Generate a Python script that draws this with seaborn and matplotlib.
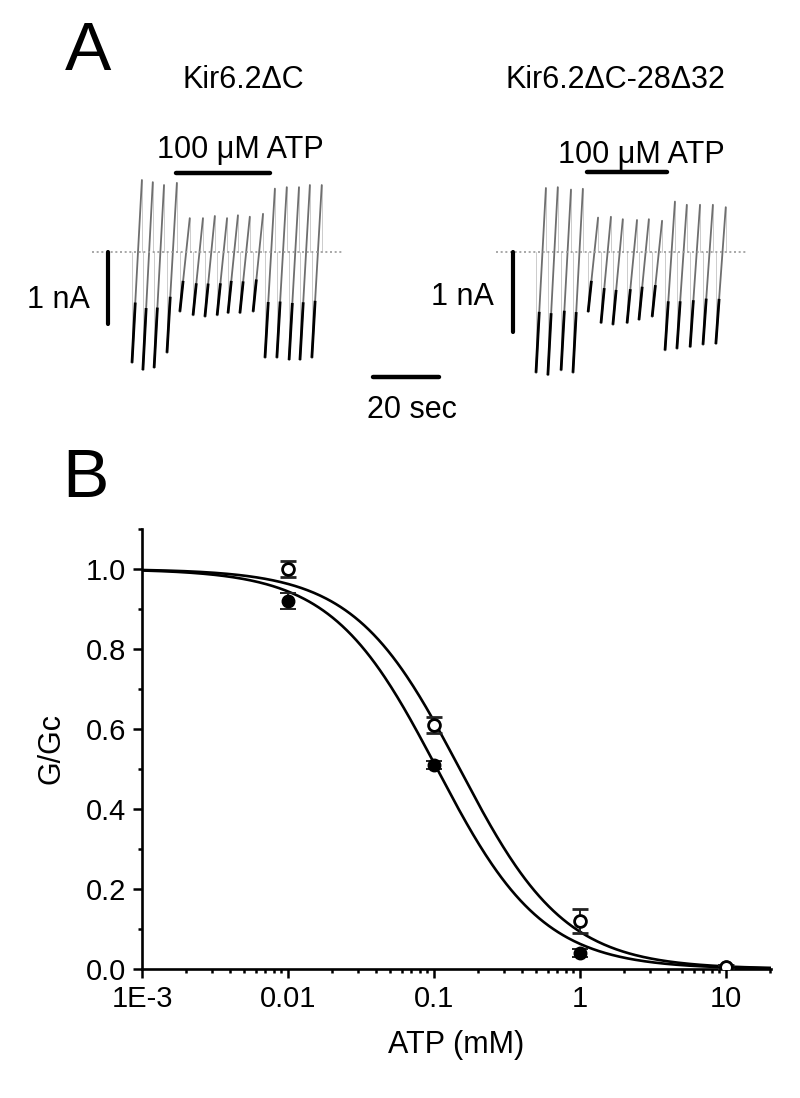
import numpy as np
import pandas as pd
import matplotlib
matplotlib.use("Agg")
import matplotlib.pyplot as plt
import seaborn as sns

# ===== Data =====
# Panel A: ramp sweeps (start time in s, min / max current in nA)
t_left = [0, 3.3, 6.7, 10.6, 14.5, 18.5, 22.1, 25.8, 29.1, 32.7, 36.7, 40.3, 43.9, 47.6, 50.9, 54.5]
imin_left = [-1.54, -1.64, -1.61, -1.40, -0.83, -0.88, -0.90, -0.88, -0.85, -0.85, -0.83,
             -1.47, -1.47, -1.50, -1.50, -1.47]
imax_left = [1.00, 0.97, 0.93, 0.96, 0.47, 0.47, 0.50, 0.47, 0.51, 0.49, 0.53,
             0.88, 0.90, 0.90, 0.93, 0.93]
atp_left = [13.3, 41.8]

t_right = [0, 3.6, 7.6, 11.2, 15.8, 19.7, 23.3, 27.6, 31.2, 35.2, 39.1, 42.7, 46.7, 50.6, 54.5]
imin_right = [-1.51, -1.54, -1.48, -1.51, -0.75, -0.89, -0.91, -0.89, -0.85, -0.81,
              -1.23, -1.21, -1.19, -1.16, -1.15]
imax_right = [0.80, 0.81, 0.78, 0.79, 0.43, 0.44, 0.41, 0.40, 0.41, 0.39,
              0.63, 0.59, 0.59, 0.59, 0.56]
atp_right = [15.5, 39.7]

ramp_dur = 3.0  # s

# Panel B: dose response
atp_mM = [0.01, 0.1, 1, 10]
g_dc = [0.92, 0.51, 0.04, 0.005]
err_dc = [0.02, 0.01, 0.01, 0.005]
g_mut = [1.00, 0.61, 0.12, 0.005]
err_mut = [0.02, 0.02, 0.03, 0.005]
ic50_dc, h_dc = 0.105, 1.2
ic50_mut, h_mut = 0.15, 1.2

# ===== Style =====
sns.set_style("ticks")
plt.rcParams["font.family"] = ["Liberation Sans", "DejaVu Sans"]
plt.rcParams["mathtext.default"] = "regular"
for k in ["text.color", "axes.labelcolor", "xtick.color", "ytick.color", "axes.edgecolor"]:
    plt.rcParams[k] = "black"

W, H = 800, 1098
fig = plt.figure(figsize=(W / 100, H / 100), dpi=100)


def box(x0, y0, x1, y1):
    return [x0 / W, 1 - y1 / H, (x1 - x0) / W, (y1 - y0) / H]


def draw_traces(ax, t, imin, imax):
    for t0, lo, hi in zip(t, imin, imax):
        ax.plot([t0, t0], [0, lo], color="#cccccc", lw=0.7)
        ax.plot([t0 + ramp_dur, t0 + ramp_dur], [hi, 0], color="#cccccc", lw=0.7)
        ax.plot([t0, t0 + ramp_dur], [lo, hi], color="#6e6e6e", lw=1.3)
        mid = lo + 0.33 * (hi - lo)
        ax.plot([t0, t0 + 0.33 * ramp_dur], [lo, mid], color="black", lw=2.0,
                solid_capstyle="butt")
    ax.plot([-12, 64], [0, 0], color="#9a9a9a", lw=1.2, ls=(0, (1.2, 1.6)))
    ax.axis("off")


# ===== Panel A, left =====
pxs = 3.3  # px per second
axl = fig.add_axes(box(0, 130, 360, 390))
axl.set_xlim((0 - 132) / pxs, (360 - 132) / pxs)
axl.set_ylim((252 - 390) / 72, (252 - 130) / 72)
draw_traces(axl, t_left, imin_left, imax_left)
axl.plot([-7.3, -7.3], [0, -1], color="black", lw=3)
axl.text(-22.4, -0.67, "1 nA", fontsize=22, ha="center", va="center")
axl.plot(atp_left, [1.10, 1.10], color="black", lw=3.2)
axl.text(32.7, 1.42, "100 μM ATP", fontsize=22, ha="center", va="center")

# ===== Panel A, right =====
axr = fig.add_axes(box(360, 130, 800, 440))
axr.set_xlim((360 - 536) / pxs, (800 - 536) / pxs)
axr.set_ylim((252 - 440) / 80, (252 - 130) / 80)
draw_traces(axr, t_right, imin_right, imax_right)
axr.plot([-7.0, -7.0], [0, -1], color="black", lw=3)
axr.text(-22.4, -0.56, "1 nA", fontsize=22, ha="center", va="center")
axr.plot(atp_right, [1.0, 1.0], color="black", lw=3.2)
axr.text(31.8, 1.21, "100 μM ATP", fontsize=22, ha="center", va="center")
axr.plot([-49.4, -29.4], [-1.5625, -1.5625], color="black", lw=3.2)
axr.text(-37.6, -1.975, "20 sec", fontsize=22, ha="center", va="center")

fig.text(88 / W, 1 - 52 / H, "A", fontsize=50, ha="center", va="center")
fig.text(243 / W, 1 - 80 / H, "Kir6.2ΔC", fontsize=22, ha="center", va="center")
fig.text(615 / W, 1 - 80 / H, "Kir6.2ΔC-28Δ32", fontsize=22, ha="center", va="center")

# ===== Panel B =====
fig.text(85 / W, 1 - 479 / H, "B", fontsize=50, ha="center", va="center")
ax = fig.add_axes(box(142, 529, 771, 969))

xfit = np.logspace(-3, np.log10(20.3), 400)
fit = pd.DataFrame({
    "atp": np.concatenate([xfit, xfit]),
    "g": np.concatenate([1 / (1 + (xfit / ic50_dc) ** h_dc),
                         1 / (1 + (xfit / ic50_mut) ** h_mut)]),
    "construct": ["dc"] * len(xfit) + ["mut"] * len(xfit),
})
sns.lineplot(data=fit, x="atp", y="g", units="construct", estimator=None,
             color="black", lw=1.9, ax=ax, legend=False)

ax.errorbar(atp_mM, g_dc, yerr=err_dc, fmt="o", ms=9, mfc="black", mec="black",
            ecolor="#222222", elinewidth=1.4, capsize=6, capthick=1.4, zorder=4)
ax.errorbar(atp_mM, g_mut, yerr=err_mut, fmt="o", ms=8.5, mfc="white", mec="black",
            mew=2, ecolor="#222222", elinewidth=1.4, capsize=6, capthick=1.4, zorder=5)

ax.set_xscale("log")
ax.set_xlim(1e-3, 20.3)
ax.set_ylim(0, 1.1)
ax.set_xticks([1e-3, 0.01, 0.1, 1, 10])
ax.set_xticklabels(["1E-3", "0.01", "0.1", "1", "10"])
ax.xaxis.set_minor_locator(matplotlib.ticker.LogLocator(base=10, subs=np.arange(2, 10), numticks=20))
ax.xaxis.set_minor_formatter(matplotlib.ticker.NullFormatter())
ax.set_yticks([0.0, 0.2, 0.4, 0.6, 0.8, 1.0])
ax.set_yticklabels(["0.0", "0.2", "0.4", "0.6", "0.8", "1.0"])
ax.set_yticks([0.1, 0.3, 0.5, 0.7, 0.9, 1.1], minor=True)
sns.despine(ax=ax)
for s in ["left", "bottom"]:
    ax.spines[s].set_linewidth(1.9)
ax.tick_params(which="major", direction="out", length=6.5, width=1.8, labelsize=21, pad=5)
ax.tick_params(which="minor", direction="out", length=3, width=1.8)
ax.set_xlabel("ATP (mM)", fontsize=22, labelpad=12)
ax.set_ylabel("G/Gc", fontsize=22, labelpad=14)

fig.savefig("out.png", dpi=100)
